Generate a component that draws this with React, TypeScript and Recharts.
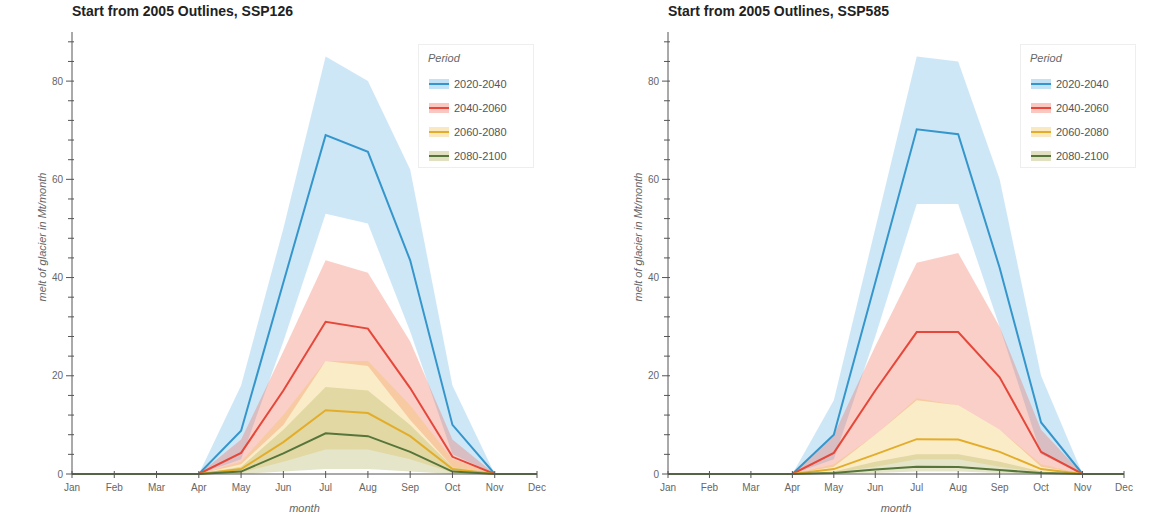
import React from 'react'
import { ComposedChart, Area, Line, XAxis, YAxis, Legend } from 'recharts'

const months = ['Jan', 'Feb', 'Mar', 'Apr', 'May', 'Jun', 'Jul', 'Aug', 'Sep', 'Oct', 'Nov', 'Dec']
const periods = ['2020-2040', '2040-2060', '2060-2080', '2080-2100']
const yTicks = [0, 4, 8, 12, 16, 20, 24, 28, 32, 36, 40, 44, 48, 52, 56, 60, 64, 68, 72, 76, 80, 84, 88]

// SSP126
const ssp126Mid2020 = [0, 0, 0, 0, 8.8, 39, 69, 65.6, 43.5, 10, 0, 0]
const ssp126Lo2020 = [0, 0, 0, 0, 3, 27, 53, 51, 29, 4, 0, 0]
const ssp126Hi2020 = [0, 0, 0, 0, 18, 50, 85, 80, 62, 18, 0, 0]
const ssp126Mid2040 = [0, 0, 0, 0, 4.3, 17, 31, 29.6, 17.5, 3.5, 0, 0]
const ssp126Lo2040 = [0, 0, 0, 0, 2, 10, 23, 22, 11, 1.5, 0, 0]
const ssp126Hi2040 = [0, 0, 0, 0, 7, 25, 43.5, 41, 27, 7, 0, 0]
const ssp126Mid2060 = [0, 0, 0, 0, 1, 6.5, 13, 12.4, 7.7, 1, 0, 0]
const ssp126Lo2060 = [0, 0, 0, 0, 0.3, 2.5, 5, 5, 3, 0.3, 0, 0]
const ssp126Hi2060 = [0, 0, 0, 0, 2.5, 12, 23, 23, 14, 3, 0, 0]
const ssp126Mid2080 = [0, 0, 0, 0, 0.5, 4.2, 8.3, 7.7, 4.5, 0.5, 0, 0]
const ssp126Lo2080 = [0, 0, 0, 0, 0, 0.5, 1, 1, 0.5, 0, 0, 0]
const ssp126Hi2080 = [0, 0, 0, 0, 1.5, 9, 17.7, 17, 10, 1.5, 0, 0]

// SSP585
const ssp585Mid2020 = [0, 0, 0, 0, 8, 39, 70.2, 69.2, 42, 10.5, 0, 0]
const ssp585Lo2020 = [0, 0, 0, 0, 3, 28, 55, 55, 30, 4, 0, 0]
const ssp585Hi2020 = [0, 0, 0, 0, 15, 50, 85, 84, 60, 20, 0, 0]
const ssp585Mid2040 = [0, 0, 0, 0, 4.3, 17, 28.9, 28.9, 19.7, 4.5, 0, 0]
const ssp585Lo2040 = [0, 0, 0, 0, 1.5, 8, 15, 14, 9, 1.5, 0, 0]
const ssp585Hi2040 = [0, 0, 0, 0, 8, 26, 43, 45, 30, 9, 0, 0]
const ssp585Mid2060 = [0, 0, 0, 0, 1, 4, 7.1, 7, 4.5, 1, 0, 0]
const ssp585Lo2060 = [0, 0, 0, 0, 0.3, 1.5, 3, 3, 1.5, 0.3, 0, 0]
const ssp585Hi2060 = [0, 0, 0, 0, 2, 8, 15.4, 14, 9, 2, 0, 0]
const ssp585Mid2080 = [0, 0, 0, 0, 0.2, 0.9, 1.5, 1.4, 0.8, 0.2, 0, 0]
const ssp585Lo2080 = [0, 0, 0, 0, 0, 0.2, 0.5, 0.5, 0.2, 0, 0, 0]
const ssp585Hi2080 = [0, 0, 0, 0, 0.5, 2.5, 4, 4, 2.5, 0.5, 0, 0]

const lineColors = ['#3596cc', '#e5473a', '#e3ad2c', '#56753a']
const bandColors = ['#3aa0e0', '#f0604a', '#f2c04a', '#a8a850']
const bandOpacity = [0.25, 0.3, 0.3, 0.3]

const keys = ['a', 'b', 'c', 'd']

const buildRows = (mids: number[][], los: number[][], his: number[][]) =>
  months.map((_, i) => {
    const row: any = { m: i }
    keys.forEach((k, j) => {
      row[k + 'mid'] = mids[j][i]
      row[k + 'band'] = [los[j][i], his[j][i]]
    })
    return row
  })

const data126 = buildRows(
  [ssp126Mid2020, ssp126Mid2040, ssp126Mid2060, ssp126Mid2080],
  [ssp126Lo2020, ssp126Lo2040, ssp126Lo2060, ssp126Lo2080],
  [ssp126Hi2020, ssp126Hi2040, ssp126Hi2060, ssp126Hi2080]
)
const data585 = buildRows(
  [ssp585Mid2020, ssp585Mid2040, ssp585Mid2060, ssp585Mid2080],
  [ssp585Lo2020, ssp585Lo2040, ssp585Lo2060, ssp585Lo2080],
  [ssp585Hi2020, ssp585Hi2040, ssp585Hi2060, ssp585Hi2080]
)

const font = '"Liberation Sans", Arial, sans-serif'
const axisColor = '#555'

const YTick = (props: any) => {
  const { x, y, payload } = props
  const major = payload.value % 20 === 0
  // x is text anchor point: axis at x + 8
  const ax = x + 8
  return (
    <g>
      <line x1={major ? ax - 6 : ax - 4} x2={ax + 2} y1={y} y2={y} stroke={axisColor} strokeWidth={1} />
      {major && (
        <text x={ax - 9} y={y} dy={3.5} textAnchor="end" fontSize={10} fill="#666" fontFamily={font}>
          {payload.value}
        </text>
      )}
    </g>
  )
}

const XTick = (props: any) => {
  const { x, y, payload } = props
  const ay = y - 8
  return (
    <g>
      <line x1={x} x2={x} y1={ay - 3} y2={ay + 4} stroke={axisColor} strokeWidth={1} />
      <text x={x} y={ay + 17} textAnchor="middle" fontSize={10} fill="#666" fontFamily={font}>
        {months[payload.value]}
      </text>
    </g>
  )
}

const YLabel = () => (
  <text
    x={42}
    y={237}
    transform="rotate(-90 42 237)"
    textAnchor="middle"
    dy={4}
    fontSize={11}
    fontStyle="italic"
    fill="#666"
    fontFamily={font}
  >
    melt of glacier in Mt/month
  </text>
)

const renderLegend = () => (
  <div
    style={{
      width: 116,
      height: 124,
      border: '1px solid #eee',
      background: 'rgba(255,255,255,0.9)',
      fontFamily: font,
      boxSizing: 'border-box',
      padding: '7px 0 0 9px',
    }}
  >
    <div style={{ fontStyle: 'italic', fontSize: 11, color: '#666', height: 20 }}>Period</div>
    {periods.map((p, i) => (
      <div key={p} style={{ display: 'flex', alignItems: 'center', height: 24 }}>
        <svg width={22} height={12} style={{ marginRight: 4 }}>
          <rect x={1} y={1} width={20} height={10} fill={bandColors[i]} fillOpacity={bandOpacity[i] + 0.05} />
          <line x1={1} x2={21} y1={6} y2={6} stroke={lineColors[i]} strokeWidth={2} />
        </svg>
        <span style={{ fontSize: 11, color: '#555' }}>{p}</span>
      </div>
    ))}
  </div>
)

const Panel = ({ title, data, width, plotWidth, legendLeft }: { title: string; data: any[]; width: number; plotWidth: number; legendLeft: number }) => (
  <div style={{ position: 'relative', width, height: 517 }}>
    <div
      style={{
        position: 'absolute',
        left: 72,
        top: 3,
        fontFamily: font,
        fontWeight: 'bold',
        fontSize: 14,
        color: '#222',
      }}
    >
      {title}
    </div>
    <ComposedChart width={width} height={517} data={data} margin={{ top: 32, right: width - 72 - plotWidth, bottom: 0, left: 0 }}>
      <XAxis
        dataKey="m"
        type="number"
        domain={[0, 11]}
        ticks={months.map((_, i) => i)}
        tick={<XTick />}
        tickLine={false}
        tickSize={6}
        tickMargin={2}
        height={43}
        stroke={axisColor}
        interval={0}
        label={{ value: 'month', position: 'insideBottom', offset: 5, fontSize: 11, fontStyle: 'italic', fill: '#666', fontFamily: font }}
      />
      <YAxis
        type="number"
        domain={[0, 90]}
        ticks={yTicks}
        tick={<YTick />}
        tickLine={false}
        tickSize={6}
        tickMargin={2}
        width={72}
        stroke={axisColor}
        interval={0}
        label={<YLabel />}
      />
      {keys.map((k, i) => (
        <Area
          key={k + 'band'}
          dataKey={k + 'band'}
          type="linear"
          stroke="none"
          fill={bandColors[i]}
          fillOpacity={bandOpacity[i]}
          isAnimationActive={false}
          legendType="none"
        />
      ))}
      {keys.map((k, i) => (
        <Line
          key={k + 'mid'}
          dataKey={k + 'mid'}
          type="linear"
          stroke={lineColors[i]}
          strokeWidth={2}
          dot={false}
          isAnimationActive={false}
          name={periods[i]}
        />
      ))}
      <Legend
        content={renderLegend}
        layout="horizontal"
        verticalAlign="middle"
        align="center"
        wrapperStyle={{ top: 44, left: legendLeft, width: 116 }}
      />
    </ComposedChart>
  </div>
)

export default function App() {
  return (
    <div style={{ position: 'absolute', left: 0, top: 0, width: 1154, height: 517, background: '#fff', display: 'flex' }}>
      <Panel title="Start from 2005 Outlines, SSP126" data={data126} width={575} plotWidth={465} legendLeft={418} />
      <div style={{ width: 21 }} />
      <Panel title="Start from 2005 Outlines, SSP585" data={data585} width={558} plotWidth={456} legendLeft={424} />
    </div>
  )
}
